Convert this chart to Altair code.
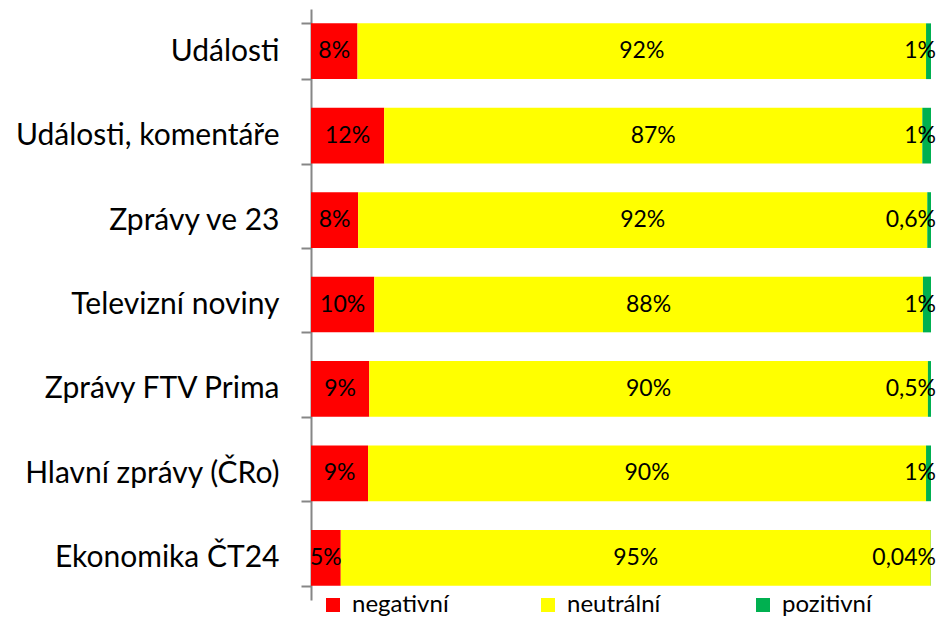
import altair as alt
import pandas as pd

categories = ["Události", "Události, komentáře", "Zprávy ve 23", "Televizní noviny",
              "Zprávy FTV Prima", "Hlavní zprávy (ČRo)", "Ekonomika ČT24"]
series = ["negativní", "neutrální", "pozitivní"]
negative = [7.5, 11.8, 7.6, 10.2, 9.4, 9.2, 4.8]
neutral = [91.7, 86.8, 91.8, 88.5, 90.1, 90.0, 95.16]
positive = [0.8, 1.4, 0.6, 1.3, 0.5, 0.8, 0.04]
neg_labels = ["8%", "12%", "8%", "10%", "9%", "9%", "5%"]
neu_labels = ["92%", "87%", "92%", "88%", "90%", "90%", "95%"]
pos_labels = ["1%", "1%", "0,6%", "1%", "0,5%", "1%", "0,04%"]
colors = ["#FF0000", "#FFFF00", "#00B050"]

rows = []
for i, c in enumerate(categories):
    for j, (vals, labs) in enumerate([(negative, neg_labels), (neutral, neu_labels), (positive, pos_labels)]):
        rows.append({"category": c, "series": series[j], "order": j, "value": vals[i], "label": labs[i]})
df = pd.DataFrame(rows)

FONT = "Lato"

base = alt.Chart(df).transform_joinaggregate(
    total="sum(value)", groupby=["category"]
).transform_calculate(
    pct="datum.value / datum.total"
).transform_stack(
    stack="pct", as_=["x0", "x1"], groupby=["category"], sort=[alt.SortField("order")]
).transform_calculate(
    mid="(datum.x0 + datum.x1) / 2"
)

yenc = alt.Y("category:N", sort=categories, title=None,
             scale=alt.Scale(paddingInner=0.34, paddingOuter=0.17),
             axis=alt.Axis(tickBand="extent", domainColor="#868686", tickColor="#868686",
                           domainWidth=2, tickWidth=2, tickSize=10, labelPadding=22,
                           labelFont=FONT, labelFontSize=30, labelColor="#000000",
                           labelLimit=400))

bars = base.mark_bar().encode(
    x=alt.X("x0:Q", scale=alt.Scale(domain=[0, 1], nice=False), axis=None),
    x2="x1:Q",
    y=yenc,
    color=alt.Color("series:N", sort=series,
                    scale=alt.Scale(domain=series, range=colors),
                    legend=alt.Legend(title=None, orient="none", legendX=10, legendY=584,
                                      direction="horizontal", columns=3, gridAlign="all",
                                      columnPadding=87, symbolType="square", symbolSize=196,
                                      symbolStrokeWidth=0, labelFont=FONT, labelFontSize=24,
                                      labelColor="#000000", labelOffset=7)),
)

text_mid = base.transform_filter("datum.order < 2").mark_text(
    font=FONT, fontSize=23, color="#000000", baseline="middle", align="center"
).encode(
    x=alt.X("mid:Q"),
    y=alt.Y("category:N", sort=categories),
    text="label:N",
)

text_pos = base.transform_filter("datum.order == 2").mark_text(
    font=FONT, fontSize=23, color="#000000", baseline="middle", align="right", dx=5
).encode(
    x=alt.X("x1:Q"),
    y=alt.Y("category:N", sort=categories),
    text="label:N",
)

chart = alt.layer(bars, text_mid, text_pos).properties(
    width=620, height=591,
    autosize=alt.AutoSizeParams(type="none"),
    padding={"left": 303, "top": 1, "right": 5, "bottom": 18},
).configure_view(stroke=None)

chart.save("out.html", embed_options={"renderer": "svg", "actions": False})
